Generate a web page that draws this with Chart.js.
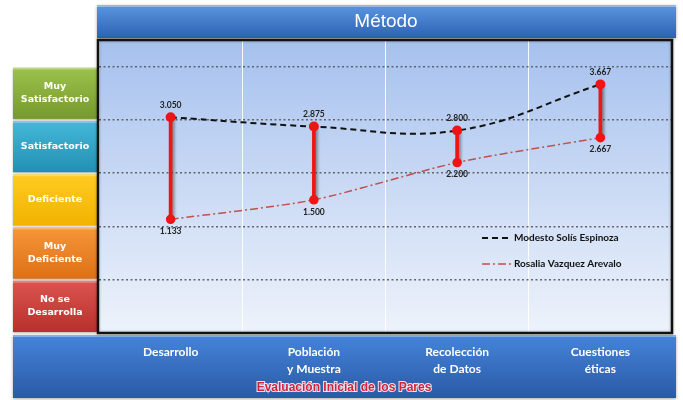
<!DOCTYPE html>
<html>
<head>
<meta charset="utf-8">
<script src="https://cdn.jsdelivr.net/npm/chart.js@4/dist/chart.umd.min.js"></script>
<style>
  body { margin: 0; background: #fff; }
  canvas { display: block; }
</style>
</head>
<body>
<canvas id="myChart" width="683" height="400"></canvas>
<script>
// data
const categories = ["Desarrollo", ["Población", "y Muestra"], ["Recolección", "de Datos"], ["Cuestiones", "éticas"]];
const modesto = [3.050, 2.875, 2.800, 3.667];
const rosalia = [1.133, 1.500, 2.200, 2.667];
const seriesNames = ["Modesto Solís Espinoza", "Rosalia Vazquez Arevalo"];
const levelNames = [["No se", "Desarrolla"], ["Muy", "Deficiente"], ["Deficiente"], ["Satisfactorio"], ["Muy", "Satisfactorio"]];
const levelColors = [["#db5450", "#b8302c"], ["#f7963a", "#dd7014"], ["#ffcc22", "#f2b200"], ["#45b8d8", "#2290b4"], ["#9cc24c", "#76992c"]];
const chartTitle = "Método";
const axisTitle = "Evaluación Inicial de los Pares";

function vgrad(ctx, y0, y1, c0, c1) {
  let g = ctx.createLinearGradient(0, y0, 0, y1);
  g.addColorStop(0, c0);
  g.addColorStop(1, c1);
  return g;
}

const decor = {
  id: "decor",
  beforeDraw(chart) {
    const ctx = chart.ctx;
    const a = chart.chartArea;
    const y = chart.scales.y;
    ctx.save();
    // title band
    ctx.shadowColor = "rgba(0,0,0,0.35)";
    ctx.shadowBlur = 3;
    ctx.shadowOffsetY = 1;
    ctx.fillStyle = vgrad(ctx, 5, 38, "#5b96e0", "#2d62b3");
    ctx.fillRect(97, 5, 579, 33);
    // bottom band
    ctx.fillStyle = vgrad(ctx, 335, 398, "#4584da", "#2a5aa6");
    ctx.fillRect(13, 335, 663, 63);
    ctx.shadowColor = "transparent";
    ctx.fillStyle = "rgba(255,255,255,0.35)";
    ctx.fillRect(97, 5, 579, 2);
    ctx.fillRect(13, 335, 663, 2);
    // left level boxes, one per band of the y scale
    levelNames.forEach((lines, k) => {
      const yt = y.getPixelForValue(k) + 1;
      const yb = Math.min(y.getPixelForValue(k - 1) - 1, a.bottom);
      ctx.shadowColor = "rgba(0,0,0,0.3)";
      ctx.shadowBlur = 2;
      ctx.shadowOffsetY = 1;
      ctx.fillStyle = vgrad(ctx, yt, yb, levelColors[k][0], levelColors[k][1]);
      ctx.fillRect(13, yt, 84, yb - yt);
      ctx.shadowColor = "transparent";
      ctx.fillStyle = "rgba(255,255,255,0.3)";
      ctx.fillRect(13, yt, 84, 2);
      ctx.fillStyle = "#fff";
      ctx.font = "bold 9.5px 'DejaVu Sans'";
      ctx.textAlign = "center";
      ctx.textBaseline = "middle";
      const cy = (yt + yb) / 2;
      lines.forEach((s, i) => {
        ctx.fillText(s, 55, cy + (i - (lines.length - 1) / 2) * 13.3);
      });
    });
    // title text
    ctx.fillStyle = "#fff";
    ctx.font = "19px 'Liberation Sans'";
    ctx.textAlign = "center";
    ctx.textBaseline = "middle";
    ctx.fillText(chartTitle, 386, 22);
    // plot background
    ctx.fillStyle = vgrad(ctx, a.top, a.bottom, "#a6c1ee", "#eef3fb");
    ctx.fillRect(a.left, a.top, a.right - a.left, a.bottom - a.top);
    ctx.restore();
  },
  beforeDatasetsDraw(chart) {
    const ctx = chart.ctx;
    const a = chart.chartArea;
    ctx.save();
    ctx.strokeStyle = "#111";
    ctx.lineWidth = 2.5;
    ctx.shadowColor = "rgba(0,0,0,0.3)";
    ctx.shadowBlur = 3;
    ctx.strokeRect(a.left - 1, a.top, a.right - a.left + 1, a.bottom - a.top);
    ctx.restore();
  },
  beforeDatasetDraw(chart, args) {
    const ctx = chart.ctx;
    ctx.save();
    if (args.index === 2) {
      ctx.shadowColor = "rgba(0,0,0,0.4)";
      ctx.shadowBlur = 3;
      ctx.shadowOffsetX = 2;
      ctx.shadowOffsetY = 1;
    }
  },
  afterDatasetDraw(chart, args) {
    chart.ctx.restore();
  },
  afterDraw(chart) {
    const ctx = chart.ctx;
    ctx.save();
    // value labels
    ctx.font = "bold 8.5px Lato";
    ctx.fillStyle = "#222";
    ctx.textAlign = "center";
    ctx.textBaseline = "middle";
    [0, 1].forEach(i => {
      chart.getDatasetMeta(i).data.forEach((pt, j) => {
        const v = chart.data.datasets[i].data[j];
        ctx.fillText(v.toFixed(3), pt.x, i === 0 ? pt.y - 12 : pt.y + 12);
      });
    });
    // legend
    ctx.font = "bold 10px Lato";
    ctx.textAlign = "left";
    [0, 1].forEach(i => {
      const ds = chart.data.datasets[i];
      const ly = i === 0 ? 238 : 264;
      ctx.beginPath();
      ctx.setLineDash(ds.borderDash);
      ctx.strokeStyle = ds.borderColor;
      ctx.lineWidth = ds.borderWidth;
      ctx.moveTo(482, ly);
      ctx.lineTo(511, ly);
      ctx.stroke();
      ctx.setLineDash([]);
      ctx.fillStyle = "#111";
      ctx.fillText(ds.label, 514, ly);
    });
    // bottom axis title
    ctx.font = "bold 12px 'Liberation Sans'";
    ctx.textAlign = "center";
    ctx.lineWidth = 2;
    ctx.strokeStyle = "rgba(255,255,255,0.85)";
    ctx.strokeText(axisTitle, 344, 388);
    ctx.fillStyle = "#d8203c";
    ctx.fillText(axisTitle, 344, 388);
    ctx.restore();
  }
};

const ctx = document.getElementById("myChart").getContext("2d");
const chart = new Chart(ctx, {
  type: "bar",
  data: {
    labels: categories,
    datasets: [
      {
        type: "line",
        label: seriesNames[0],
        data: modesto,
        borderColor: "#111",
        borderWidth: 2,
        borderDash: [6, 4],
        tension: 0.4,
        pointRadius: 4,
        pointBackgroundColor: "#f01414",
        pointBorderColor: "#f01414",
        order: 1
      },
      {
        type: "line",
        label: seriesNames[1],
        data: rosalia,
        borderColor: "#c0504d",
        borderWidth: 1.5,
        borderDash: [8, 3, 2, 3],
        tension: 0.25,
        pointRadius: 4,
        pointBackgroundColor: "#f01414",
        pointBorderColor: "#f01414",
        order: 1
      },
      {
        type: "bar",
        label: "rango",
        data: modesto.map((v, i) => [rosalia[i], v]),
        backgroundColor: "#f01414",
        barThickness: 3,
        order: 2
      }
    ]
  },
  options: {
    responsive: false,
    animation: false,
    layout: { padding: { left: 99, right: 11, top: 40, bottom: 0 } },
    plugins: {
      legend: { display: false },
      tooltip: { enabled: false }
    },
    scales: {
      x: {
        offset: true,
        grid: { offset: true, color: "rgba(255,255,255,0.9)", lineWidth: 1, drawTicks: false },
        border: { display: false },
        ticks: {
          color: "#fff",
          padding: 11,
          font: { family: "Lato", weight: "bold", size: 12, lineHeight: 1.4 }
        },
        afterFit: s => { s.height = 67; }
      },
      y: {
        min: -1,
        max: 4.5,
        ticks: { display: false, stepSize: 1 },
        border: { display: false, dash: [2, 2.5] },
        grid: { color: "rgba(90,90,90,0.9)", lineWidth: 1.5, drawTicks: false, borderDash: [2, 2.5] },
        afterFit: s => { s.width = 0; }
      }
    }
  },
  plugins: [decor]
});
</script>
</body>
</html>
